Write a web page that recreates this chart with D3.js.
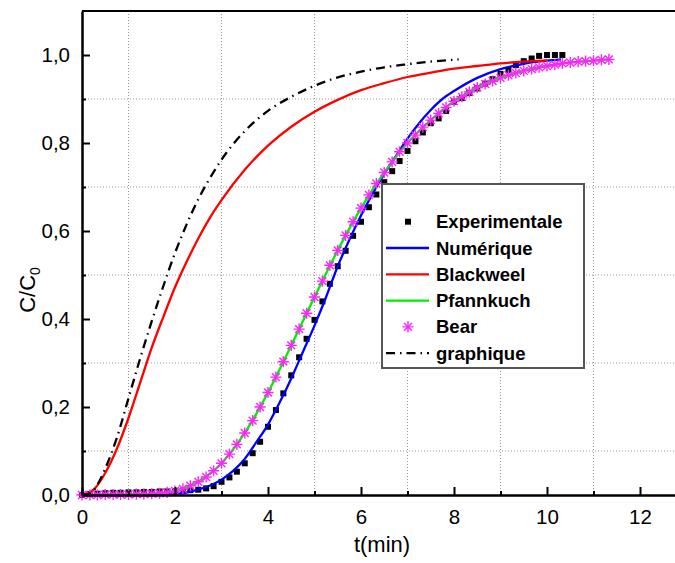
<!DOCTYPE html>
<html>
<head>
<meta charset="utf-8">
<script src="https://cdn.jsdelivr.net/npm/d3@7"></script>
<style>
  body { margin: 0; background: #fff; }
  svg { display: block; font-family: "Liberation Sans", Arial, sans-serif; }
</style>
</head>
<body>
<svg id="chart" width="675" height="563"></svg>
<script>
// sampling times (min) of the measured / Bear points, every 10 s
let sampleTimes = [0.00, 0.17, 0.33, 0.50, 0.67, 0.83, 1.00, 1.17, 1.33, 1.50, 1.67, 1.83,
    2.00, 2.17, 2.33, 2.50, 2.67, 2.83, 3.00, 3.17, 3.33, 3.50, 3.67, 3.83,
    4.00, 4.17, 4.33, 4.50, 4.67, 4.83, 5.00, 5.17, 5.33, 5.50, 5.67, 5.83,
    6.00, 6.17, 6.33, 6.50, 6.67, 6.83, 7.00, 7.17, 7.33, 7.50, 7.67, 7.83,
    8.00, 8.17, 8.33, 8.50, 8.67, 8.83, 9.00, 9.17, 9.33, 9.50, 9.67, 9.83,
    10.00, 10.17, 10.33, 10.50, 10.67, 10.83, 11.00, 11.17, 11.33];

// Experimentale (squares)
let expC = [0.000, 0.002, 0.003, 0.004, 0.005, 0.005, 0.006, 0.006, 0.007, 0.007, 0.008, 0.008,
    0.009, 0.010, 0.011, 0.012, 0.015, 0.020, 0.030, 0.040, 0.053, 0.072, 0.095, 0.121,
    0.155, 0.193, 0.231, 0.272, 0.313, 0.355, 0.398, 0.440, 0.480, 0.520, 0.555, 0.589,
    0.621, 0.654, 0.683, 0.711, 0.736, 0.759, 0.782, 0.804, 0.824, 0.845, 0.856, 0.873,
    0.894, 0.902, 0.914, 0.924, 0.935, 0.945, 0.957, 0.966, 0.977, 0.986, 0.992, 0.998,
    1.000, 1.000, 1.000];

// Bear (stars)
let bearC = [0.000, 0.000, 0.000, 0.001, 0.001, 0.001, 0.001, 0.002, 0.002, 0.003, 0.004, 0.006,
    0.009, 0.014, 0.021, 0.030, 0.041, 0.055, 0.072, 0.093, 0.115, 0.141, 0.169, 0.200,
    0.233, 0.268, 0.303, 0.340, 0.377, 0.413, 0.450, 0.486, 0.522, 0.556, 0.590, 0.621,
    0.652, 0.682, 0.708, 0.733, 0.757, 0.780, 0.800, 0.818, 0.836, 0.852, 0.867, 0.881,
    0.895, 0.905, 0.916, 0.926, 0.934, 0.941, 0.948, 0.954, 0.959, 0.964, 0.968, 0.972,
    0.975, 0.978, 0.981, 0.983, 0.985, 0.986, 0.987, 0.989, 0.990];

// Numérique (blue)
let numT = [0, 1.5, 2.0, 2.5, 3.0, 3.25, 3.5, 3.75, 4.0, 4.25, 4.5, 4.75, 5.0, 5.25, 5.5, 5.75,
    6.0, 6.25, 6.5, 6.75, 7.0, 7.25, 7.5, 7.75, 8.0, 8.5, 9.0, 9.5, 10.0, 10.3];
let numC = [0, 0, 0.002, 0.012, 0.035, 0.055, 0.082, 0.12, 0.16, 0.21, 0.265, 0.325, 0.385, 0.45, 0.52, 0.58,
    0.635, 0.685, 0.73, 0.77, 0.81, 0.845, 0.875, 0.9, 0.918, 0.948, 0.968, 0.98, 0.987, 0.99];

// Blackweel (red)
let blackT = [0, 0.25, 0.5, 0.75, 1.0, 1.25, 1.5, 1.75, 2.0, 2.25, 2.5, 2.75, 3.0, 3.5, 4.0, 4.5,
    5.0, 5.5, 6.0, 6.5, 7.0, 7.5, 8.0, 8.5, 9.0, 9.5, 10.0];
let blackC = [0, 0.012, 0.05, 0.105, 0.175, 0.255, 0.335, 0.405, 0.472, 0.53, 0.583, 0.63, 0.67, 0.739, 0.794, 0.837,
    0.871, 0.898, 0.92, 0.936, 0.95, 0.96, 0.969, 0.975, 0.981, 0.985, 0.988];

// Pfannkuch (green)
let pfT = [0, 1.0, 1.5, 2.0, 2.5, 3.0, 3.5, 4.0, 4.5, 5.0, 5.5, 6.0, 6.5, 7.0, 7.5, 8.0,
    8.5, 9.0, 9.5, 10.0, 10.5, 11.0, 11.33];
let pfC = [0, 0.001, 0.003, 0.009, 0.03, 0.072, 0.141, 0.233, 0.34, 0.45, 0.556, 0.652, 0.733, 0.8, 0.852, 0.895,
    0.926, 0.948, 0.964, 0.975, 0.983, 0.987, 0.99];

// graphique (dash-dot black)
let graphT = [0, 0.2, 0.35, 0.5, 0.75, 1.0, 1.25, 1.5, 1.75, 2.0, 2.25, 2.5, 2.75, 3.0, 3.5, 4.0,
    4.5, 5.0, 5.5, 6.0, 6.5, 7.0, 7.5, 8.1];
let graphC = [0, 0.005, 0.027, 0.06, 0.13, 0.22, 0.31, 0.395, 0.475, 0.55, 0.615, 0.672, 0.72, 0.762, 0.827, 0.873,
    0.905, 0.93, 0.949, 0.962, 0.972, 0.979, 0.985, 0.99];

let xMajor = [0, 2, 4, 6, 8, 10, 12];
let xMinor = [1, 3, 5, 7, 9, 11];
let yMajor = [0, 0.2, 0.4, 0.6, 0.8, 1.0];
let yMinor = [0.1, 0.3, 0.5, 0.7, 0.9];

let legendNames = ["Experimentale", "Numérique", "Blackweel", "Pfannkuch", "Bear", "graphique"];

let svg = d3.select("#chart");
let W = 675, H = 563;
let left = 82, bottom = 495;

let x = d3.scaleLinear().domain([0, 13]).range([left, left + 13 * 46.5]);
let y = d3.scaleLinear().domain([0, 1.1]).range([bottom, bottom - 1.1 * 440]);

let comma = v => d3.format(".1f")(v).replace(".", ",");

svg.append("rect").attr("width", W).attr("height", H).attr("fill", "#fff");

// dotted grid on the minor values
let grid = svg.append("g");
grid.selectAll(".gx").data(xMinor).enter().append("line")
    .attr("x1", d => x(d)).attr("x2", d => x(d))
    .attr("y1", y(1.1)).attr("y2", bottom)
    .attr("stroke", "#999").attr("stroke-width", 1).attr("stroke-dasharray", "1,2");
grid.selectAll(".gy").data(yMinor).enter().append("line")
    .attr("x1", left).attr("x2", W)
    .attr("y1", d => y(d)).attr("y2", d => y(d))
    .attr("stroke", "#999").attr("stroke-width", 1).attr("stroke-dasharray", "1,2");

let toPts = (ts, cs) => cs.map((c, i) => [ts[i], c]);

let line = d3.line()
    .x(d => x(d[0]))
    .y(d => y(d[1]))
    .curve(d3.curveMonotoneX);

let plot = svg.append("g");

// Experimentale squares
plot.selectAll(".sq").data(toPts(sampleTimes, expC)).enter().append("rect")
    .attr("x", d => x(d[0]) - 3).attr("y", d => y(d[1]) - 3)
    .attr("width", 6).attr("height", 6).attr("fill", "#000");

let curves = [
    {pts: toPts(numT, numC), color: "#0000ff"},
    {pts: toPts(blackT, blackC), color: "#ff0000"},
    {pts: toPts(pfT, pfC), color: "#00ee00"}
];
curves.forEach(c => {
    plot.append("path").datum(c.pts)
        .attr("d", line).attr("fill", "none")
        .attr("stroke", c.color).attr("stroke-width", 2.3);
});

// Bear stars (plus + times)
let plusSym = d3.symbol().type(d3.symbolPlus).size(42);
let timesSym = d3.symbol().type(d3.symbolTimes).size(42);
let stars = plot.selectAll(".star").data(toPts(sampleTimes, bearC)).enter().append("g")
    .attr("transform", d => "translate(" + x(d[0]) + "," + y(d[1]) + ")");
stars.append("path").attr("d", plusSym).attr("fill", "none").attr("stroke", "#ff22ff").attr("stroke-width", 1.4);
stars.append("path").attr("d", timesSym).attr("fill", "none").attr("stroke", "#ff22ff").attr("stroke-width", 1.4);

// graphique dash-dot
plot.append("path").datum(toPts(graphT, graphC))
    .attr("d", line).attr("fill", "none")
    .attr("stroke", "#000").attr("stroke-width", 2.3)
    .attr("stroke-dasharray", "9,5,1.5,5");

// axes
svg.append("g").attr("transform", "translate(0," + bottom + ")")
    .call(d3.axisBottom(x).tickValues(xMajor).tickSize(-8).tickSizeOuter(0).tickPadding(14).tickFormat(d3.format("d")));
svg.append("g").attr("transform", "translate(0," + bottom + ")")
    .call(d3.axisBottom(x).tickValues(xMinor).tickSize(-4).tickSizeOuter(0).tickFormat(""));
svg.append("g").attr("transform", "translate(" + left + ",0)")
    .call(d3.axisLeft(y).tickValues(yMajor).tickSize(-8).tickSizeOuter(0).tickPadding(12).tickFormat(comma));
svg.append("g").attr("transform", "translate(" + left + ",0)")
    .call(d3.axisLeft(y).tickValues(yMinor).tickSize(-4).tickSizeOuter(0).tickFormat(""));

svg.selectAll(".domain").attr("stroke", "#000").attr("stroke-width", 2);
svg.selectAll(".tick line").attr("stroke", "#000").attr("stroke-width", 2);
svg.selectAll(".tick text").attr("font-size", 20.5).attr("fill", "#000")
    .attr("font-family", "'Liberation Sans', Arial, sans-serif");

// top frame line
svg.append("line").attr("x1", left).attr("x2", W)
    .attr("y1", y(1.1)).attr("y2", y(1.1))
    .attr("stroke", "#000").attr("stroke-width", 2);

// axis titles
svg.append("text").attr("x", 382).attr("y", 552).attr("text-anchor", "middle")
    .attr("font-size", 22).text("t(min)");
let yl = svg.append("text").attr("transform", "translate(35,290) rotate(-90)")
    .attr("text-anchor", "middle").attr("font-size", 22);
yl.append("tspan").text("C/C");
yl.append("tspan").attr("font-size", 14).attr("dy", 5).text("0");

// legend
let lg = svg.append("g");
lg.append("rect").attr("x", 382).attr("y", 184).attr("width", 202).attr("height", 184)
    .attr("fill", "#fff").attr("stroke", "#555").attr("stroke-width", 2);
let rowY = i => 221.7 + i * 26.3;
lg.selectAll(".lt").data(legendNames).enter().append("text")
    .attr("x", 436).attr("y", (d, i) => rowY(i) + 6.5)
    .attr("font-size", 18.5).attr("font-weight", "bold").text(d => d);
lg.append("rect").attr("x", 405).attr("y", rowY(0) - 3).attr("width", 6).attr("height", 6).attr("fill", "#000");
[["#0000ff", 1], ["#ff0000", 2], ["#00ee00", 3]].forEach(c => {
    lg.append("line").attr("x1", 386).attr("x2", 429).attr("y1", rowY(c[1])).attr("y2", rowY(c[1]))
        .attr("stroke", c[0]).attr("stroke-width", 2.3);
});
let ls = lg.append("g").attr("transform", "translate(408," + rowY(4) + ")");
ls.append("path").attr("d", plusSym).attr("fill", "none").attr("stroke", "#ff22ff").attr("stroke-width", 1.4);
ls.append("path").attr("d", timesSym).attr("fill", "none").attr("stroke", "#ff22ff").attr("stroke-width", 1.4);
lg.append("line").attr("x1", 386).attr("x2", 429).attr("y1", rowY(5)).attr("y2", rowY(5))
    .attr("stroke", "#000").attr("stroke-width", 2.3).attr("stroke-dasharray", "9,5,1.5,5");
</script>
</body>
</html>
